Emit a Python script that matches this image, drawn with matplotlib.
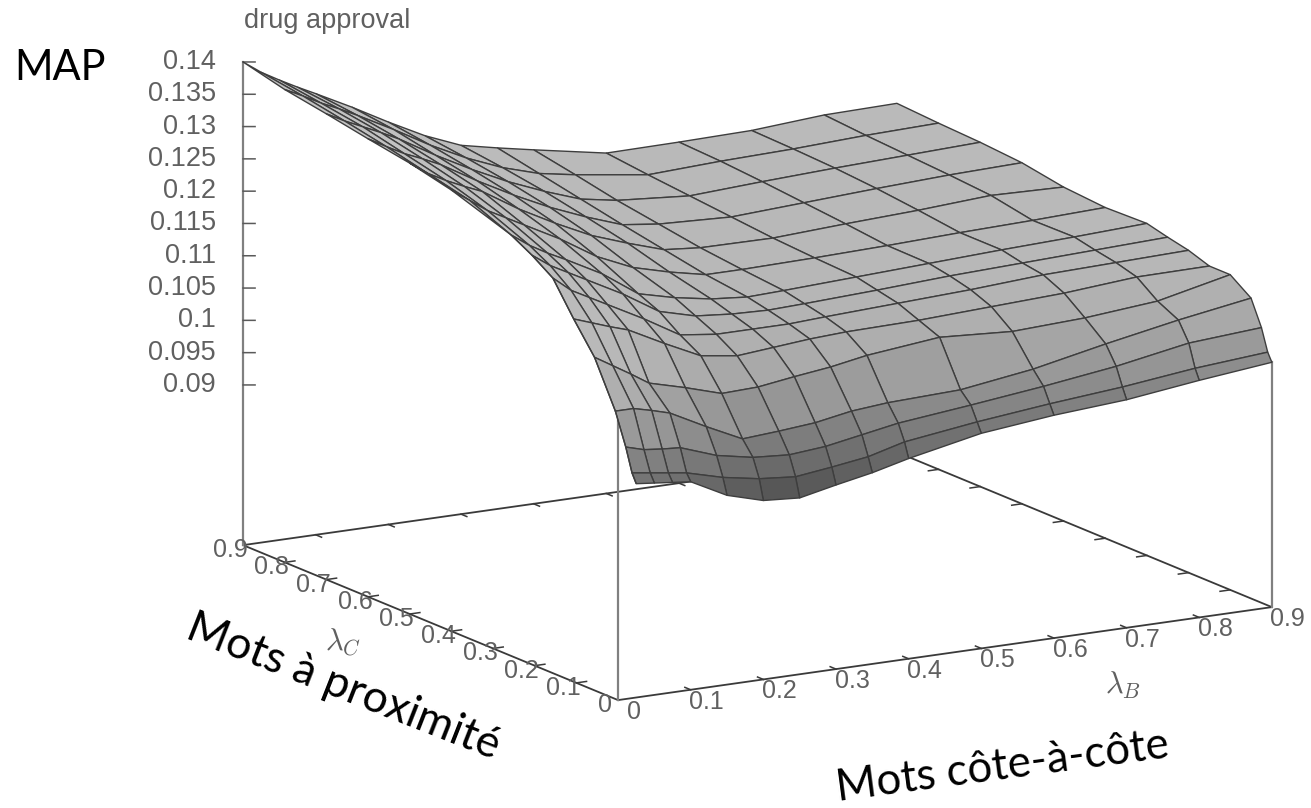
import numpy as np
import matplotlib
matplotlib.use("Agg")
import matplotlib.pyplot as plt
from matplotlib.colors import LinearSegmentedColormap, Normalize
from mpl_toolkits.mplot3d import proj3d

lambda_b = [0, .025, .05, .075, .1, .15, .2, .25, .3, .35, .4, .5, .6, .7, .8, .9]
lambda_c = [0, .01, .025, .05, .1, .15, .2, .25, .3, .4, .5, .6, .7, .8, .9]
nan = float("nan")
map_by_lambda_b = [
    [nan, nan, nan, nan, nan, nan, nan, nan, nan, .1335, .1350, .1361, .1373, .1384, .1400],
    [.0983, .0997, .1033, .1082, .1152, .1198, .1248, .1270, .1288, .1315, .1330, .1345, .1358, .1370, .1380],
    [.0980, .0993, .1025, .1082, .1135, .1188, .1225, .1250, .1268, .1295, .1315, .1330, .1345, .1355, .1364],
    [.0977, .0989, .1022, .1075, .1118, .1178, .1210, .1235, .1252, .1280, .1302, .1318, .1332, .1342, .1349],
    [.0974, .0985, .1020, .1067, .1100, .1169, .1195, .1220, .1238, .1265, .1290, .1305, .1318, .1328, .1335],
    [.0945, .0970, .1000, .1038, .1085, .1140, .1165, .1190, .1208, .1235, .1255, .1272, .1285, .1298, .1306],
    [.0929, .0960, .0989, .1011, .1068, .1113, .1132, .1155, .1169, .1200, .1225, .1242, .1255, .1266, .1275],
    [.0925, .0955, .0985, .1015, .1070, .1105, .1125, .1140, .1155, .1175, .1198, .1215, .1228, .1238, .1246],
    [.0937, .0962, .0990, .1020, .1078, .1110, .1125, .1135, .1145, .1160, .1178, .1192, .1205, .1215, .1223],
    [.0948, .0970, .1000, .1030, .1085, .1115, .1125, .1133, .1140, .1148, .1160, .1172, .1185, .1198, .1211],
    [.0962, .0985, .1010, .1035, .1095, .1118, .1128, .1135, .1142, .1148, .1155, .1165, .1175, .1188, .1200],
    [.0985, .1000, .1022, .1039, .1107, .1120, .1133, .1140, .1147, .1150, .1154, .1160, .1166, .1172, .1179],
    [.0997, .1012, .1035, .1055, .1100, .1125, .1138, .1146, .1152, .1153, .1160, .1166, .1172, .1177, .1180],
    [.1005, .1022, .1050, .1078, .1105, .1130, .1145, .1150, .1157, .1157, .1165, .1172, .1177, .1180, .1182],
    [.1019, .1035, .1070, .1099, .1115, .1139, .1148, .1154, .1161, .1160, .1172, .1177, .1181, .1185, .1190],
    [.1031, .1044, .1078, .1117, .1140, .1140, .1151, .1158, .1166, .1164, .1169, .1180, .1185, .1188, .1192],
]
axis_ticks = [.1 * i for i in range(10)]
axis_labels = ["0", "0.1", "0.2", "0.3", "0.4", "0.5", "0.6", "0.7", "0.8", "0.9"]
z_ticks = [.09, .095, .1, .105, .11, .115, .12, .125, .13, .135, .14]
z_labels = ["0.09", "0.095", "0.1", "0.105", "0.11", "0.115", "0.12", "0.125", "0.13", "0.135", "0.14"]
z_floor = .0652
front_edge_top = .1085
right_edge_top = .1031

W, H = 1311, 808
fig = plt.figure(figsize=(W / 100, H / 100), dpi=100, facecolor="white")
side = 1137
left, top = 173.6, 918.4 - side
ax = fig.add_axes([left / W, 1 - (top + side) / H, side / W, side / H], projection="3d", proj_type="ortho")
ax.set_box_aspect((758, 741, 498))
ax.view_init(elev=14.03, azim=239.6, roll=0)
ax.set_xlim(0, .9)
ax.set_ylim(0, .9)
ax.set_zlim(z_floor, .14)
ax.set_xticks([])
ax.set_yticks([])
ax.set_zticks([])
ax.set_axis_off()
ax.patch.set_alpha(0)
ax.computed_zorder = False

B, C = np.meshgrid(lambda_b, lambda_c, indexing="ij")
cmap = LinearSegmentedColormap.from_list(
    "greys_z",
    [(0.0, "#484848"), (0.0625, "#5e5e5e"), (0.167, "#7c7c7c"), (0.271, "#989898"),
     (0.375, "#acacac"), (0.479, "#b8b8b8"), (1.0, "#c4c4c4")],
)
surf = ax.plot_surface(B, C, np.array(map_by_lambda_b), rstride=1, cstride=1, cmap=cmap,
                       norm=Normalize(.092, .14), shade=False, edgecolor="#3e3e3e",
                       linewidth=1.0, antialiased=True, zorder=5)

line = dict(color="#3a3a3a", lw=1.3, zorder=2)
vert = dict(color="#808080", lw=1.6, zorder=2)
ax.plot([0, .9], [0, 0], [z_floor, z_floor], **line)
ax.plot([0, 0], [0, .9], [z_floor, z_floor], **line)
ax.plot([0, .9], [.9, .9], [z_floor, z_floor], **line)
ax.plot([.9, .9], [0, .9], [z_floor, z_floor], **line)
ax.plot([0, 0], [.9, .9], [z_floor, .14], **vert)
ax.plot([0, 0], [0, 0], [z_floor, front_edge_top], **vert)
ax.plot([.9, .9], [0, 0], [z_floor, right_edge_top], **vert)

tick = dict(color="#3a3a3a", lw=1.1, zorder=3)
for t in axis_ticks[1:-1]:
    ax.plot([t, t], [0, .014], [z_floor] * 2, **tick)
    ax.plot([t, t], [.9, .886], [z_floor] * 2, **tick)
    ax.plot([0, .014], [t, t], [z_floor] * 2, **tick)
    ax.plot([.9, .886], [t, t], [z_floor] * 2, **tick)
for t in z_ticks:
    ax.plot([0, .0123], [.9, .9 - .0074], [t, t], color="#5a5a5a", lw=1.1, zorder=3)

M = ax.get_proj()


def label_at(x, y, z, text, dx, dy, **style):
    px, py, _ = proj3d.proj_transform(x, y, z, M)
    ax.annotate(text, xy=(px, py), xycoords="data", xytext=(dx, dy), textcoords="offset pixels",
                annotation_clip=False, zorder=6, family="Liberation Sans", color="#606060", va="center", **style)


for t, s in zip(axis_ticks, axis_labels):
    label_at(t, 0, z_floor, s, 16, -12, ha="center", fontsize=18)
    label_at(0, t, z_floor, s, -13, -5, ha="center", fontsize=18)
for t, s in zip(z_ticks, z_labels):
    label_at(0, .9, t, s, -27, 0, ha="right", fontsize=19.5)

fig.text(327 / W, 1 - 21 / H, "drug approval", ha="center", va="center", family="Liberation Sans", color="#606060", fontsize=19.5)
math = dict(color="#606060", fontsize=22, ha="center", va="center", math_fontfamily="cm")
fig.text(343 / W, 1 - 642 / H, r"$\lambda_C$", **math)
fig.text(1123 / W, 1 - 685 / H, r"$\lambda_B$", **math)
big = dict(family="Lato", color="black", ha="center", va="center", rotation_mode="anchor")
fig.text(60 / W, 1 - 68 / H, "MAP", fontsize=30, **big)
fig.text(343 / W, 1 - 687 / H, "Mots à proximité", rotation=-21.5, fontsize=32, **big)
fig.text(1002 / W, 1 - 767 / H, "Mots côte-à-côte", rotation=7.5, fontsize=31.5, **big)

fig.savefig("out.png", dpi=100, facecolor="white")
